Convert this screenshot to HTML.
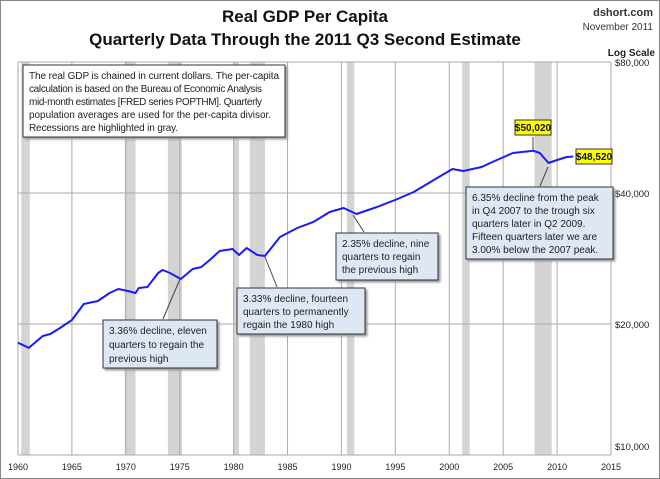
<!DOCTYPE html>
<html><head><meta charset="utf-8"><style>
body{margin:0;background:#fff;}
svg{display:block;font-family:"Liberation Sans",sans-serif;}
.ann{font-size:10px;fill:#222;}
</style></head><body>
<svg id="chart" width="660" height="479" viewBox="0 0 660 479" xmlns="http://www.w3.org/2000/svg">
<rect x="0.5" y="0.5" width="659" height="478" fill="#fff" stroke="#888"/>
<text x="305" y="22" text-anchor="middle" font-size="17" font-weight="bold" fill="#111">Real GDP Per Capita</text>
<text x="305" y="45" text-anchor="middle" font-size="17" font-weight="bold" fill="#111">Quarterly Data Through the 2011 Q3 Second Estimate</text>
<text x="653" y="16" text-anchor="end" font-size="11" font-weight="bold" fill="#333">dshort.com</text>
<text x="653" y="30" text-anchor="end" font-size="10" fill="#333">November 2011</text>
<text x="655" y="56" text-anchor="end" font-size="10" font-weight="bold" fill="#222">Log Scale</text>
<g id="rec"></g>
<g id="grid"></g>
<g id="axes"></g>
<path id="line" fill="none" stroke="#1a1aff" stroke-width="2" stroke-linejoin="round"/>
<g stroke="#444" stroke-width="1">
<line x1="163" y1="319" x2="180" y2="279"/>
<line x1="277" y1="287" x2="265" y2="257"/>
<line x1="364" y1="232" x2="353" y2="215"/>
<line x1="540" y1="186" x2="548" y2="167"/>
<line x1="533" y1="137" x2="533" y2="150"/>
</g>
<g>
<rect x="23" y="65" width="262" height="72" fill="#fff" stroke="#333" style="filter:drop-shadow(2px 2px 1px #999)"/>
<text class="ann" x="29" y="79" textLength="250">The real GDP is chained in current dollars. The per-capita</text>
<text class="ann" x="29" y="92" textLength="233">calculation is based on the Bureau of Economic Analysis</text>
<text class="ann" x="29" y="105" textLength="233">mid-month estimates [FRED series POPTHM]. Quarterly</text>
<text class="ann" x="29" y="118" textLength="242">population averages are used for the per-capita divisor.</text>
<text class="ann" x="29" y="131" textLength="149">Recessions are highlighted in gray.</text>
</g>
<g>
<rect x="103" y="320" width="114" height="48" fill="#dde8f4" stroke="#333" style="filter:drop-shadow(2px 2px 1px #999)"/>
<text class="ann" x="109" y="334">3.36% decline, eleven</text>
<text class="ann" x="109" y="348">quarters to regain the</text>
<text class="ann" x="109" y="362">previous high</text>
</g>
<g>
<rect x="237" y="288" width="128" height="46" fill="#dde8f4" stroke="#333" style="filter:drop-shadow(2px 2px 1px #999)"/>
<text class="ann" x="243" y="302">3.33% decline, fourteen</text>
<text class="ann" x="243" y="315">quarters to permanently</text>
<text class="ann" x="243" y="328">regain the 1980  high</text>
</g>
<g>
<rect x="336" y="233" width="102" height="47" fill="#dde8f4" stroke="#333" style="filter:drop-shadow(2px 2px 1px #999)"/>
<text class="ann" x="342" y="247">2.35% decline, nine</text>
<text class="ann" x="342" y="260">quarters to regain</text>
<text class="ann" x="342" y="273">the previous high</text>
</g>
<g>
<rect x="466" y="187" width="147" height="72" fill="#dde8f4" stroke="#333" style="filter:drop-shadow(2px 2px 1px #999)"/>
<text class="ann" x="472" y="201">6.35% decline from the peak</text>
<text class="ann" x="472" y="214">in Q4 2007  to the trough six</text>
<text class="ann" x="472" y="227">quarters later in Q2  2009.</text>
<text class="ann" x="472" y="240">Fifteen quarters later we are</text>
<text class="ann" x="472" y="253">3.00%  below the 2007 peak.</text>
</g>
<g>
<rect x="515" y="120" width="36" height="15" fill="#ffff00" stroke="#333"/>
<text x="533" y="131" text-anchor="middle" font-size="10" font-weight="bold" fill="#111">$50,020</text>
</g>
<g>
<rect x="576" y="149" width="36" height="15" fill="#ffff00" stroke="#333"/>
<text x="594" y="160" text-anchor="middle" font-size="10" font-weight="bold" fill="#111">$48,520</text>
</g>
</svg>
<script>
const years=[1960.0,1961.0,1962.3,1963.0,1963.9,1965.0,1966.1,1967.4,1968.5,1969.3,1970.2,1970.9,1971.2,1972.0,1973.0,1973.4,1974.1,1975.1,1976.2,1977.0,1977.8,1978.7,1979.9,1980.5,1981.2,1982.2,1982.9,1984.3,1985.9,1987.4,1988.0,1988.9,1990.2,1991.4,1993.3,1995.2,1996.7,1998.9,2000.3,2001.3,2003.0,2004.0,2005.9,2007.8,2008.4,2009.2,2010.0,2010.9,2011.5];
const gdp=[18120,17620,18770,18970,19580,20430,22230,22590,23570,24070,23820,23570,24200,24320,26190,26610,26190,25380,26760,27040,28070,29430,29750,28820,29900,28820,28660,31690,33240,34320,35050,36180,36940,35800,37140,38750,40220,43320,45410,44940,45890,47130,49430,50020,49430,46890,47640,48400,48520];
const recStart=[1960.3,1969.9,1973.9,1980.0,1981.5,1990.5,2001.2,2007.9];
const recEnd=[1961.1,1970.9,1975.2,1980.5,1982.9,1991.2,2001.9,2009.5];
const xTicks=[1960,1965,1970,1975,1980,1985,1990,1995,2000,2005,2010,2015];
const yTicks=[10000,20000,40000,80000];
const yTickLabels=["$10,000","$20,000","$40,000","$80,000"];
const X0=18,X1=611,Y0=455,Y1=62;
const xs=y=>X0+(y-1960)/55*(X1-X0);
const ys=v=>Y0-Math.log2(v/10000)/3*(Y0-Y1);
const NS="http://www.w3.org/2000/svg";
function mk(t,a,p){const e=document.createElementNS(NS,t);for(const k in a)e.setAttribute(k,a[k]);p.appendChild(e);return e;}
const rec=document.getElementById('rec'),grid=document.getElementById('grid'),axes=document.getElementById('axes');
recStart.forEach((s,i)=>{const r=mk('rect',{x:xs(s),y:Y1,width:xs(recEnd[i])-xs(s),height:Y0-Y1,fill:'#d4d4d4'},rec);

});
xTicks.forEach(t=>{const l=mk('line',{x1:xs(t),x2:xs(t),y1:Y1,y2:Y0,stroke:'#aaa','stroke-width':1},grid);


const tx=mk('text',{x:xs(t),y:470,'text-anchor':'middle','font-size':9,fill:'#222'},axes);tx.textContent=t;

});
yTicks.forEach((t,i)=>{const l=mk('line',{x1:X0,x2:X1,y1:ys(t),y2:ys(t),stroke:'#aaa','stroke-width':1},grid);


const yy=i==0?ys(t)-5:ys(t)+4;
const tx=mk('text',{x:615,y:yy,'font-size':9.5,fill:'#222'},axes);tx.textContent=yTickLabels[i];

});
document.getElementById('line').setAttribute('d',years.map((y,i)=>(i?'L':'M')+xs(y).toFixed(1)+' '+ys(gdp[i]).toFixed(1)).join(' '));
</script>
</body></html>
